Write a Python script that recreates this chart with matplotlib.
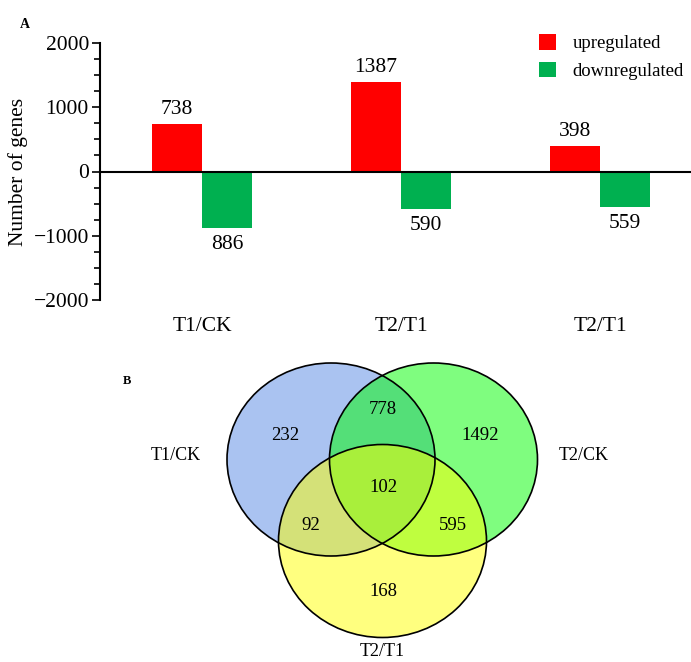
import numpy as np
import matplotlib.pyplot as plt
from matplotlib.patches import Ellipse
from matplotlib.ticker import MultipleLocator

plt.rcParams['font.family'] = ['Liberation Serif', 'DejaVu Serif']

# bar chart data
categories = ['T1/CK', 'T2/T1', 'T2/T1']
up = [738, 1387, 398]
down = [886, 590, 559]

# venn data
set_names = ['T1/CK', 'T2/CK', 'T2/T1']
only_a, only_b, only_c = 232, 1492, 168
ab, ac, bc, abc = 778, 92, 595, 102

W, H = 691, 662
fig = plt.figure(figsize=(W/100, H/100), dpi=100)

# ---- A: up/down regulated genes ----
ax = fig.add_axes([100/W, 1-300/H, 591/W, 257/H])
x = np.arange(len(categories))
bw = 0.252
b1 = ax.bar(x - bw/2, up, bw, color='#ff0000', label='upregulated')
b2 = ax.bar(x + bw/2, [-v for v in down], bw, color='#00b050', label='downregulated')
for xi, v in zip(x, up):
    ax.text(xi - bw/2, v + 80, str(v), ha='center', va='bottom', fontsize=15.5)
for xi, v in zip(x, down):
    ax.text(xi + bw/2, -v - 110, str(v), ha='center', va='top', fontsize=15.5)

ax.set_ylim(-2000, 2000)
ax.set_xlim(-0.5126, 2.457)
ax.yaxis.set_major_locator(MultipleLocator(1000))
ax.yaxis.set_minor_locator(MultipleLocator(250))
ax.tick_params(axis='y', which='major', length=6, width=1.2, labelsize=15.5, pad=2)
ax.tick_params(axis='y', which='minor', length=4, width=1.2)
ax.set_xticks(x)
ax.set_xticklabels(categories, fontsize=15.5)
ax.tick_params(axis='x', length=0, pad=12)
for s in ['top', 'right', 'bottom']:
    ax.spines[s].set_visible(False)
ax.spines['left'].set_linewidth(1.5)
ax.axhline(0, color='black', lw=1.5, clip_on=False)
ax.set_ylabel('Number of genes', fontsize=15.5)
ax.yaxis.set_label_coords(-0.122, 0.5)
ax.legend(handles=[b1, b2], loc='upper left', bbox_to_anchor=(0.715, 1.1),
          frameon=False, fontsize=13.5, handlelength=0.9, handleheight=0.9,
          handletextpad=0.85, labelspacing=0.5)
fig.text(25/W, 1-25/H, 'A', fontsize=10, fontweight='bold', ha='center', va='center')

# ---- B: venn of DEG sets ----
vx = fig.add_axes([0, 0, 1, 331/H])
vx.set_xlim(0, W)
vx.set_ylim(H, H - 331)
vx.axis('off')

circles = [((331, 459.5), '#5688e4'), ((433.5, 459.5), '#00fc00'), ((382.5, 541), '#ffff00')]
for (c, col) in circles:
    vx.add_patch(Ellipse(c, 208, 193, facecolor=col, alpha=0.5, edgecolor='none'))
for (c, col) in circles:
    vx.add_patch(Ellipse(c, 208, 193, facecolor='none', edgecolor='black', lw=1.2))

counts = [(only_a, 285, 435), (ab, 383, 410), (only_b, 480, 435), (abc, 383, 487),
          (ac, 311, 526), (bc, 453, 526), (only_c, 383, 591)]
for v, px, py in counts:
    vx.text(px, py, str(v), ha='center', va='center', fontsize=13.5)

for name, px, py in zip(set_names, [176, 584, 382], [455, 455, 651]):
    vx.text(px, py, name, ha='center', va='center', fontsize=13)
fig.text(127/W, 1-381/H, 'B', fontsize=9, fontweight='bold', ha='center', va='center')

fig.savefig('out.png', dpi=100)
